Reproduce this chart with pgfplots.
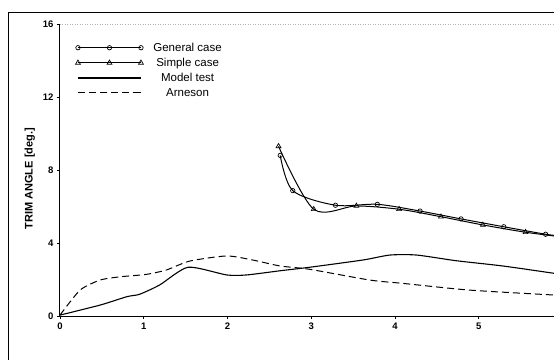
\documentclass[border=0pt]{standalone}
\usepackage{fontspec}
\setmainfont{Liberation Sans}
\usepackage{pgfplots}
\pgfplotsset{compat=1.18}
\begin{document}
\begin{tikzpicture}[x=1pt,y=1pt]
\useasboundingbox (-60,-44) rectangle (494,316);
\draw[line width=0.9pt] (-52,-44) -- (-52,304) -- (494,304);
\begin{axis}[
  at={(0,0)}, anchor=origin,
  scale only axis, width=494pt, height=292pt,
  xmin=0, xmax=5.9, ymin=0, ymax=16,
  axis x line*=bottom, axis y line*=left,
  axis line style={line width=1pt},
  xtick={0,1,2,3,4,5}, ytick={0,4,8,12,16},
  tick align=outside, major tick length=3pt,
  tick style={black, line width=0.7pt},
  ticklabel style={font=\bfseries\fontsize{9.5}{11}\selectfont},
  /pgf/number format/assume math mode=true,
  ylabel={\bfseries TRIM ANGLE [deg.]},
  ylabel style={font=\fontsize{11}{13}\selectfont, at={(axis description cs:-0.061,0.47)}, anchor=center},
  legend style={draw=none, fill=none, at={(rel axis cs:0.025,0.95)}, anchor=north west,
    font=\fontsize{11.5}{13}\selectfont, row sep=1.3pt, column sep=8pt},
  legend cell align=center,
  legend image code/.code={\draw[#1] plot coordinates {(0pt,0pt)(31.5pt,0pt)(63pt,0pt)};},
]
\draw[dotted, gray!60, line width=0.5pt] (axis cs:0,16) -- (axis cs:5.9,16);
\addplot[black, line width=1pt, smooth, tension=0.5, mark=o, mark size=2.2pt, mark options={solid, line width=0.7pt, fill=white}, mark indices={1,2,3,4,5,6,7,8}] coordinates {
(2.63,8.8) (2.78,6.87) (3.29,6.07) (3.79,6.12) (4.30,5.75) (4.79,5.32) (5.30,4.89) (5.80,4.48) (5.95,4.40)};
\addlegendentry{General case}
\addplot[black, line width=1pt, smooth, tension=0.5, mark=triangle, mark size=2.8pt, mark options={solid, line width=0.7pt, fill=white}, mark indices={1,2,3,4,5,6,7}] coordinates {
(2.61,9.3) (3.03,5.85) (3.54,6.03) (4.05,5.85) (4.55,5.44) (5.05,4.99) (5.56,4.59) (5.95,4.36)};
\addlegendentry{Simple case}
\addplot[black, line width=1.1pt, smooth, tension=0.4] coordinates {
(0,0.05) (0.48,0.6) (0.80,1.06) (0.95,1.19) (1.19,1.7) (1.53,2.67) (1.99,2.25) (2.23,2.25) (2.63,2.48) (2.98,2.67) (3.62,3.07) (3.94,3.34) (4.26,3.34) (4.73,3.03) (5.29,2.74) (5.9,2.34)};
\addlegendentry{Model test}
\addplot[black, line width=1pt, dash pattern=on 7pt off 4pt, smooth, tension=0.4] coordinates {
(0,0.05) (0.24,1.42) (0.48,1.97) (0.72,2.15) (1.03,2.28) (1.27,2.52) (1.55,3.01) (1.99,3.29) (2.30,3.07) (2.63,2.74) (2.98,2.56) (3.70,1.97) (4.09,1.79) (4.89,1.42) (5.9,1.15)};
\addlegendentry{Arneson}
\node[anchor=base west, font=\bfseries\fontsize{10}{11}\selectfont] at (axis cs:5.35,-1.72) {F$_{\mathbf{n}\nabla}$};
\end{axis}
\end{tikzpicture}
\end{document}
